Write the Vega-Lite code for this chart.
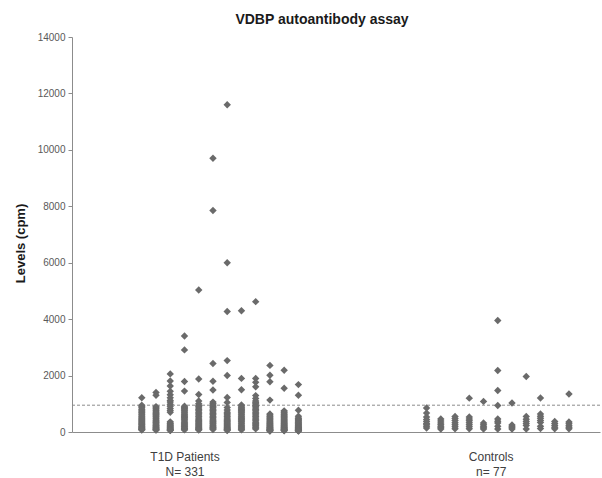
{
  "$schema": "https://vega.github.io/schema/vega-lite/v6.json",
  "autosize": "none",
  "width": 528,
  "height": 395,
  "padding": {"left": 72, "top": 37, "right": 2, "bottom": 46},
  "background": "white",
  "config": {"view": {"stroke": null}, "font": "Liberation Sans"},
  "title": {"text": "VDBP autoantibody assay", "fontSize": 14, "fontWeight": "bold", "font": "Liberation Sans", "color": "#1a1a1a", "anchor": "middle", "dx": -14, "dy": 18, "baseline": "bottom", "offset": 9},
  "datasets": {
    "levels": [
      {"grp":"T1D","col":1,"cpm":1216},{"grp":"T1D","col":1,"cpm":950},{"grp":"T1D","col":1,"cpm":900},{"grp":"T1D","col":1,"cpm":860},{"grp":"T1D","col":1,"cpm":810},{"grp":"T1D","col":1,"cpm":770},{"grp":"T1D","col":1,"cpm":720},{"grp":"T1D","col":1,"cpm":680},{"grp":"T1D","col":1,"cpm":640},{"grp":"T1D","col":1,"cpm":600},{"grp":"T1D","col":1,"cpm":560},{"grp":"T1D","col":1,"cpm":520},{"grp":"T1D","col":1,"cpm":480},{"grp":"T1D","col":1,"cpm":445},{"grp":"T1D","col":1,"cpm":410},{"grp":"T1D","col":1,"cpm":375},{"grp":"T1D","col":1,"cpm":340},{"grp":"T1D","col":1,"cpm":305},{"grp":"T1D","col":1,"cpm":275},{"grp":"T1D","col":1,"cpm":245},{"grp":"T1D","col":1,"cpm":215},{"grp":"T1D","col":1,"cpm":190},{"grp":"T1D","col":1,"cpm":165},{"grp":"T1D","col":1,"cpm":140},{"grp":"T1D","col":1,"cpm":120},{"grp":"T1D","col":1,"cpm":100},{"grp":"T1D","col":1,"cpm":85},{"grp":"T1D","col":1,"cpm":70},
      {"grp":"T1D","col":2,"cpm":1400},{"grp":"T1D","col":2,"cpm":1300},{"grp":"T1D","col":2,"cpm":900},{"grp":"T1D","col":2,"cpm":860},{"grp":"T1D","col":2,"cpm":820},{"grp":"T1D","col":2,"cpm":780},{"grp":"T1D","col":2,"cpm":740},{"grp":"T1D","col":2,"cpm":700},{"grp":"T1D","col":2,"cpm":660},{"grp":"T1D","col":2,"cpm":620},{"grp":"T1D","col":2,"cpm":580},{"grp":"T1D","col":2,"cpm":540},{"grp":"T1D","col":2,"cpm":500},{"grp":"T1D","col":2,"cpm":460},{"grp":"T1D","col":2,"cpm":420},{"grp":"T1D","col":2,"cpm":385},{"grp":"T1D","col":2,"cpm":350},{"grp":"T1D","col":2,"cpm":315},{"grp":"T1D","col":2,"cpm":280},{"grp":"T1D","col":2,"cpm":250},{"grp":"T1D","col":2,"cpm":220},{"grp":"T1D","col":2,"cpm":190},{"grp":"T1D","col":2,"cpm":165},{"grp":"T1D","col":2,"cpm":140},{"grp":"T1D","col":2,"cpm":115},{"grp":"T1D","col":2,"cpm":95},{"grp":"T1D","col":2,"cpm":80},{"grp":"T1D","col":2,"cpm":65},
      {"grp":"T1D","col":3,"cpm":2060},{"grp":"T1D","col":3,"cpm":1810},{"grp":"T1D","col":3,"cpm":1630},{"grp":"T1D","col":3,"cpm":1440},{"grp":"T1D","col":3,"cpm":1320},{"grp":"T1D","col":3,"cpm":1210},{"grp":"T1D","col":3,"cpm":1120},{"grp":"T1D","col":3,"cpm":1060},{"grp":"T1D","col":3,"cpm":980},{"grp":"T1D","col":3,"cpm":910},{"grp":"T1D","col":3,"cpm":830},{"grp":"T1D","col":3,"cpm":760},{"grp":"T1D","col":3,"cpm":700},{"grp":"T1D","col":3,"cpm":360},{"grp":"T1D","col":3,"cpm":320},{"grp":"T1D","col":3,"cpm":290},{"grp":"T1D","col":3,"cpm":260},{"grp":"T1D","col":3,"cpm":230},{"grp":"T1D","col":3,"cpm":200},{"grp":"T1D","col":3,"cpm":175},{"grp":"T1D","col":3,"cpm":150},{"grp":"T1D","col":3,"cpm":130},{"grp":"T1D","col":3,"cpm":110},{"grp":"T1D","col":3,"cpm":90},{"grp":"T1D","col":3,"cpm":75},{"grp":"T1D","col":3,"cpm":60},{"grp":"T1D","col":3,"cpm":50},
      {"grp":"T1D","col":4,"cpm":3400},{"grp":"T1D","col":4,"cpm":2910},{"grp":"T1D","col":4,"cpm":1790},{"grp":"T1D","col":4,"cpm":1450},{"grp":"T1D","col":4,"cpm":910},{"grp":"T1D","col":4,"cpm":870},{"grp":"T1D","col":4,"cpm":830},{"grp":"T1D","col":4,"cpm":790},{"grp":"T1D","col":4,"cpm":750},{"grp":"T1D","col":4,"cpm":710},{"grp":"T1D","col":4,"cpm":670},{"grp":"T1D","col":4,"cpm":630},{"grp":"T1D","col":4,"cpm":590},{"grp":"T1D","col":4,"cpm":550},{"grp":"T1D","col":4,"cpm":510},{"grp":"T1D","col":4,"cpm":470},{"grp":"T1D","col":4,"cpm":430},{"grp":"T1D","col":4,"cpm":390},{"grp":"T1D","col":4,"cpm":350},{"grp":"T1D","col":4,"cpm":310},{"grp":"T1D","col":4,"cpm":275},{"grp":"T1D","col":4,"cpm":240},{"grp":"T1D","col":4,"cpm":205},{"grp":"T1D","col":4,"cpm":175},{"grp":"T1D","col":4,"cpm":145},{"grp":"T1D","col":4,"cpm":120},{"grp":"T1D","col":4,"cpm":95},{"grp":"T1D","col":4,"cpm":75},
      {"grp":"T1D","col":5,"cpm":5030},{"grp":"T1D","col":5,"cpm":1880},{"grp":"T1D","col":5,"cpm":1330},{"grp":"T1D","col":5,"cpm":1100},{"grp":"T1D","col":5,"cpm":1000},{"grp":"T1D","col":5,"cpm":950},{"grp":"T1D","col":5,"cpm":900},{"grp":"T1D","col":5,"cpm":850},{"grp":"T1D","col":5,"cpm":800},{"grp":"T1D","col":5,"cpm":750},{"grp":"T1D","col":5,"cpm":700},{"grp":"T1D","col":5,"cpm":650},{"grp":"T1D","col":5,"cpm":600},{"grp":"T1D","col":5,"cpm":550},{"grp":"T1D","col":5,"cpm":500},{"grp":"T1D","col":5,"cpm":455},{"grp":"T1D","col":5,"cpm":410},{"grp":"T1D","col":5,"cpm":370},{"grp":"T1D","col":5,"cpm":330},{"grp":"T1D","col":5,"cpm":290},{"grp":"T1D","col":5,"cpm":255},{"grp":"T1D","col":5,"cpm":220},{"grp":"T1D","col":5,"cpm":190},{"grp":"T1D","col":5,"cpm":160},{"grp":"T1D","col":5,"cpm":135},{"grp":"T1D","col":5,"cpm":110},{"grp":"T1D","col":5,"cpm":90},{"grp":"T1D","col":5,"cpm":70},
      {"grp":"T1D","col":6,"cpm":9700},{"grp":"T1D","col":6,"cpm":7850},{"grp":"T1D","col":6,"cpm":2430},{"grp":"T1D","col":6,"cpm":1800},{"grp":"T1D","col":6,"cpm":1490},{"grp":"T1D","col":6,"cpm":1060},{"grp":"T1D","col":6,"cpm":1010},{"grp":"T1D","col":6,"cpm":960},{"grp":"T1D","col":6,"cpm":910},{"grp":"T1D","col":6,"cpm":860},{"grp":"T1D","col":6,"cpm":810},{"grp":"T1D","col":6,"cpm":760},{"grp":"T1D","col":6,"cpm":710},{"grp":"T1D","col":6,"cpm":660},{"grp":"T1D","col":6,"cpm":610},{"grp":"T1D","col":6,"cpm":560},{"grp":"T1D","col":6,"cpm":510},{"grp":"T1D","col":6,"cpm":460},{"grp":"T1D","col":6,"cpm":415},{"grp":"T1D","col":6,"cpm":370},{"grp":"T1D","col":6,"cpm":330},{"grp":"T1D","col":6,"cpm":290},{"grp":"T1D","col":6,"cpm":250},{"grp":"T1D","col":6,"cpm":215},{"grp":"T1D","col":6,"cpm":180},{"grp":"T1D","col":6,"cpm":150},{"grp":"T1D","col":6,"cpm":120},{"grp":"T1D","col":6,"cpm":90},
      {"grp":"T1D","col":7,"cpm":11600},{"grp":"T1D","col":7,"cpm":6000},{"grp":"T1D","col":7,"cpm":4270},{"grp":"T1D","col":7,"cpm":2530},{"grp":"T1D","col":7,"cpm":2000},{"grp":"T1D","col":7,"cpm":1220},{"grp":"T1D","col":7,"cpm":1050},{"grp":"T1D","col":7,"cpm":870},{"grp":"T1D","col":7,"cpm":780},{"grp":"T1D","col":7,"cpm":700},{"grp":"T1D","col":7,"cpm":650},{"grp":"T1D","col":7,"cpm":600},{"grp":"T1D","col":7,"cpm":550},{"grp":"T1D","col":7,"cpm":500},{"grp":"T1D","col":7,"cpm":455},{"grp":"T1D","col":7,"cpm":410},{"grp":"T1D","col":7,"cpm":370},{"grp":"T1D","col":7,"cpm":330},{"grp":"T1D","col":7,"cpm":290},{"grp":"T1D","col":7,"cpm":255},{"grp":"T1D","col":7,"cpm":220},{"grp":"T1D","col":7,"cpm":190},{"grp":"T1D","col":7,"cpm":160},{"grp":"T1D","col":7,"cpm":135},{"grp":"T1D","col":7,"cpm":110},{"grp":"T1D","col":7,"cpm":90},{"grp":"T1D","col":7,"cpm":70},{"grp":"T1D","col":7,"cpm":55},
      {"grp":"T1D","col":8,"cpm":4300},{"grp":"T1D","col":8,"cpm":1900},{"grp":"T1D","col":8,"cpm":1500},{"grp":"T1D","col":8,"cpm":960},{"grp":"T1D","col":8,"cpm":920},{"grp":"T1D","col":8,"cpm":880},{"grp":"T1D","col":8,"cpm":840},{"grp":"T1D","col":8,"cpm":800},{"grp":"T1D","col":8,"cpm":760},{"grp":"T1D","col":8,"cpm":720},{"grp":"T1D","col":8,"cpm":680},{"grp":"T1D","col":8,"cpm":640},{"grp":"T1D","col":8,"cpm":600},{"grp":"T1D","col":8,"cpm":560},{"grp":"T1D","col":8,"cpm":520},{"grp":"T1D","col":8,"cpm":480},{"grp":"T1D","col":8,"cpm":440},{"grp":"T1D","col":8,"cpm":400},{"grp":"T1D","col":8,"cpm":360},{"grp":"T1D","col":8,"cpm":320},{"grp":"T1D","col":8,"cpm":280},{"grp":"T1D","col":8,"cpm":240},{"grp":"T1D","col":8,"cpm":200},{"grp":"T1D","col":8,"cpm":165},{"grp":"T1D","col":8,"cpm":130},{"grp":"T1D","col":8,"cpm":100},{"grp":"T1D","col":8,"cpm":75},
      {"grp":"T1D","col":9,"cpm":4620},{"grp":"T1D","col":9,"cpm":1900},{"grp":"T1D","col":9,"cpm":1760},{"grp":"T1D","col":9,"cpm":1600},{"grp":"T1D","col":9,"cpm":1290},{"grp":"T1D","col":9,"cpm":1190},{"grp":"T1D","col":9,"cpm":1100},{"grp":"T1D","col":9,"cpm":1050},{"grp":"T1D","col":9,"cpm":1000},{"grp":"T1D","col":9,"cpm":950},{"grp":"T1D","col":9,"cpm":900},{"grp":"T1D","col":9,"cpm":850},{"grp":"T1D","col":9,"cpm":800},{"grp":"T1D","col":9,"cpm":750},{"grp":"T1D","col":9,"cpm":700},{"grp":"T1D","col":9,"cpm":650},{"grp":"T1D","col":9,"cpm":600},{"grp":"T1D","col":9,"cpm":550},{"grp":"T1D","col":9,"cpm":500},{"grp":"T1D","col":9,"cpm":450},{"grp":"T1D","col":9,"cpm":400},{"grp":"T1D","col":9,"cpm":350},{"grp":"T1D","col":9,"cpm":300},{"grp":"T1D","col":9,"cpm":260},{"grp":"T1D","col":9,"cpm":220},{"grp":"T1D","col":9,"cpm":180},{"grp":"T1D","col":9,"cpm":145},{"grp":"T1D","col":9,"cpm":110},
      {"grp":"T1D","col":10,"cpm":2360},{"grp":"T1D","col":10,"cpm":2010},{"grp":"T1D","col":10,"cpm":1780},{"grp":"T1D","col":10,"cpm":1130},{"grp":"T1D","col":10,"cpm":640},{"grp":"T1D","col":10,"cpm":600},{"grp":"T1D","col":10,"cpm":560},{"grp":"T1D","col":10,"cpm":520},{"grp":"T1D","col":10,"cpm":480},{"grp":"T1D","col":10,"cpm":440},{"grp":"T1D","col":10,"cpm":400},{"grp":"T1D","col":10,"cpm":365},{"grp":"T1D","col":10,"cpm":330},{"grp":"T1D","col":10,"cpm":300},{"grp":"T1D","col":10,"cpm":270},{"grp":"T1D","col":10,"cpm":240},{"grp":"T1D","col":10,"cpm":210},{"grp":"T1D","col":10,"cpm":185},{"grp":"T1D","col":10,"cpm":160},{"grp":"T1D","col":10,"cpm":140},{"grp":"T1D","col":10,"cpm":120},{"grp":"T1D","col":10,"cpm":100},{"grp":"T1D","col":10,"cpm":85},{"grp":"T1D","col":10,"cpm":70},{"grp":"T1D","col":10,"cpm":55},{"grp":"T1D","col":10,"cpm":45},{"grp":"T1D","col":10,"cpm":35},
      {"grp":"T1D","col":11,"cpm":2190},{"grp":"T1D","col":11,"cpm":1550},{"grp":"T1D","col":11,"cpm":750},{"grp":"T1D","col":11,"cpm":710},{"grp":"T1D","col":11,"cpm":670},{"grp":"T1D","col":11,"cpm":630},{"grp":"T1D","col":11,"cpm":590},{"grp":"T1D","col":11,"cpm":550},{"grp":"T1D","col":11,"cpm":510},{"grp":"T1D","col":11,"cpm":470},{"grp":"T1D","col":11,"cpm":435},{"grp":"T1D","col":11,"cpm":400},{"grp":"T1D","col":11,"cpm":365},{"grp":"T1D","col":11,"cpm":330},{"grp":"T1D","col":11,"cpm":300},{"grp":"T1D","col":11,"cpm":270},{"grp":"T1D","col":11,"cpm":240},{"grp":"T1D","col":11,"cpm":210},{"grp":"T1D","col":11,"cpm":185},{"grp":"T1D","col":11,"cpm":160},{"grp":"T1D","col":11,"cpm":140},{"grp":"T1D","col":11,"cpm":120},{"grp":"T1D","col":11,"cpm":100},{"grp":"T1D","col":11,"cpm":85},{"grp":"T1D","col":11,"cpm":70},{"grp":"T1D","col":11,"cpm":55},{"grp":"T1D","col":11,"cpm":45},
      {"grp":"T1D","col":12,"cpm":1680},{"grp":"T1D","col":12,"cpm":1300},{"grp":"T1D","col":12,"cpm":770},{"grp":"T1D","col":12,"cpm":560},{"grp":"T1D","col":12,"cpm":500},{"grp":"T1D","col":12,"cpm":470},{"grp":"T1D","col":12,"cpm":440},{"grp":"T1D","col":12,"cpm":410},{"grp":"T1D","col":12,"cpm":380},{"grp":"T1D","col":12,"cpm":350},{"grp":"T1D","col":12,"cpm":320},{"grp":"T1D","col":12,"cpm":290},{"grp":"T1D","col":12,"cpm":265},{"grp":"T1D","col":12,"cpm":240},{"grp":"T1D","col":12,"cpm":215},{"grp":"T1D","col":12,"cpm":190},{"grp":"T1D","col":12,"cpm":170},{"grp":"T1D","col":12,"cpm":150},{"grp":"T1D","col":12,"cpm":130},{"grp":"T1D","col":12,"cpm":115},{"grp":"T1D","col":12,"cpm":100},{"grp":"T1D","col":12,"cpm":85},{"grp":"T1D","col":12,"cpm":70},{"grp":"T1D","col":12,"cpm":60},{"grp":"T1D","col":12,"cpm":50},{"grp":"T1D","col":12,"cpm":40},{"grp":"T1D","col":12,"cpm":30},
      {"grp":"Control","col":21,"cpm":850},{"grp":"Control","col":21,"cpm":670},{"grp":"Control","col":21,"cpm":530},{"grp":"Control","col":21,"cpm":440},{"grp":"Control","col":21,"cpm":375},{"grp":"Control","col":21,"cpm":300},{"grp":"Control","col":21,"cpm":260},{"grp":"Control","col":21,"cpm":200},{"grp":"Control","col":21,"cpm":140},
      {"grp":"Control","col":22,"cpm":460},{"grp":"Control","col":22,"cpm":390},{"grp":"Control","col":22,"cpm":320},{"grp":"Control","col":22,"cpm":260},{"grp":"Control","col":22,"cpm":200},{"grp":"Control","col":22,"cpm":150},{"grp":"Control","col":22,"cpm":106},
      {"grp":"Control","col":23,"cpm":550},{"grp":"Control","col":23,"cpm":480},{"grp":"Control","col":23,"cpm":410},{"grp":"Control","col":23,"cpm":330},{"grp":"Control","col":23,"cpm":260},{"grp":"Control","col":23,"cpm":190},{"grp":"Control","col":23,"cpm":117},
      {"grp":"Control","col":24,"cpm":1200},{"grp":"Control","col":24,"cpm":530},{"grp":"Control","col":24,"cpm":460},{"grp":"Control","col":24,"cpm":400},{"grp":"Control","col":24,"cpm":330},{"grp":"Control","col":24,"cpm":260},{"grp":"Control","col":24,"cpm":190},{"grp":"Control","col":24,"cpm":117},
      {"grp":"Control","col":25,"cpm":1085},{"grp":"Control","col":25,"cpm":320},{"grp":"Control","col":25,"cpm":260},{"grp":"Control","col":25,"cpm":200},{"grp":"Control","col":25,"cpm":150},{"grp":"Control","col":25,"cpm":106},
      {"grp":"Control","col":26,"cpm":3950},{"grp":"Control","col":26,"cpm":2180},{"grp":"Control","col":26,"cpm":1470},{"grp":"Control","col":26,"cpm":940},{"grp":"Control","col":26,"cpm":460},{"grp":"Control","col":26,"cpm":380},{"grp":"Control","col":26,"cpm":319},{"grp":"Control","col":26,"cpm":200},{"grp":"Control","col":26,"cpm":106},
      {"grp":"Control","col":27,"cpm":1030},{"grp":"Control","col":27,"cpm":250},{"grp":"Control","col":27,"cpm":200},{"grp":"Control","col":27,"cpm":150},{"grp":"Control","col":27,"cpm":106},
      {"grp":"Control","col":28,"cpm":1970},{"grp":"Control","col":28,"cpm":553},{"grp":"Control","col":28,"cpm":450},{"grp":"Control","col":28,"cpm":376},{"grp":"Control","col":28,"cpm":300},{"grp":"Control","col":28,"cpm":234},{"grp":"Control","col":28,"cpm":106},
      {"grp":"Control","col":29,"cpm":1205},{"grp":"Control","col":29,"cpm":638},{"grp":"Control","col":29,"cpm":560},{"grp":"Control","col":29,"cpm":485},{"grp":"Control","col":29,"cpm":410},{"grp":"Control","col":29,"cpm":340},{"grp":"Control","col":29,"cpm":200},{"grp":"Control","col":29,"cpm":120},
      {"grp":"Control","col":30,"cpm":376},{"grp":"Control","col":30,"cpm":300},{"grp":"Control","col":30,"cpm":234},{"grp":"Control","col":30,"cpm":170},{"grp":"Control","col":30,"cpm":117},
      {"grp":"Control","col":31,"cpm":1347},{"grp":"Control","col":31,"cpm":354},{"grp":"Control","col":31,"cpm":290},{"grp":"Control","col":31,"cpm":223},{"grp":"Control","col":31,"cpm":170},{"grp":"Control","col":31,"cpm":117}
    ],
    "cutoff": [{"threshold": 950}]
  },
  "layer": [
    {
      "data": {"name": "cutoff"},
      "mark": {"type": "rule", "stroke": "#8c8c8c", "strokeWidth": 1, "strokeDash": [3, 2]},
      "encoding": {
        "y": {"field": "threshold", "type": "quantitative", "scale": {"domain": [0, 14000], "nice": false}}
      }
    },
    {
      "data": {"name": "levels"},
      "mark": {"type": "point", "shape": "diamond", "filled": true, "size": 55, "color": "#6a6a6a", "opacity": 1, "strokeWidth": 0},
      "encoding": {
        "x": {
          "field": "col", "type": "quantitative",
          "scale": {"domain": [-3.9, 33.18], "nice": false, "zero": false},
          "axis": {
            "title": null, "values": [4, 25.5], "ticks": false, "tickSize": 0, "grid": false,
            "domainColor": "#8c8c8c", "domainWidth": 1,
            "labelExpr": "datum.value < 15 ? ['T1D Patients', 'N= 331'] : ['Controls', 'n= 77']",
            "labelFont": "Liberation Sans", "labelFontSize": 12, "labelColor": "#404040",
            "labelBaseline": "top", "labelPadding": 19, "labelLineHeight": 15, "labelAlign": "center", "labelOverlap": false, "labelFlush": false
          }
        },
        "y": {
          "field": "cpm", "type": "quantitative",
          "scale": {"domain": [0, 14000], "nice": false},
          "axis": {
            "title": "Levels (cpm)", "titleFont": "Liberation Sans", "titleFontSize": 13, "titleFontWeight": "bold", "titleColor": "#1a1a1a",
            "titlePadding": 10, "titleY": 206,
            "values": [0, 2000, 4000, 6000, 8000, 10000, 12000, 14000], "format": "d",
            "grid": false, "tickSize": 4, "tickColor": "#8c8c8c", "domainColor": "#8c8c8c",
            "labelFont": "Liberation Sans", "labelFontSize": 10, "labelColor": "#595959", "labelPadding": 3
          }
        }
      }
    }
  ]
}
